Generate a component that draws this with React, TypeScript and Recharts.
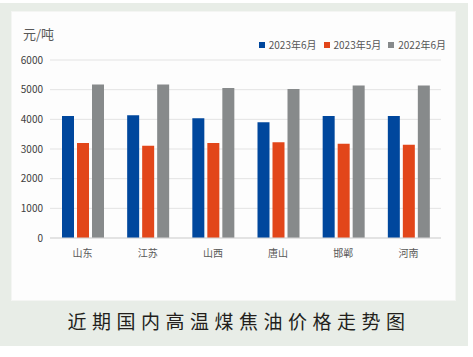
import React from 'react';
import { BarChart, Bar, XAxis, YAxis, CartesianGrid } from 'recharts';

const categories = ['山东', '江苏', '山西', '唐山', '邯郸', '河南'];
const jun2023 = [4110, 4140, 4040, 3900, 4110, 4110];
const may2023 = [3200, 3110, 3200, 3230, 3180, 3140];
const jun2022 = [5170, 5170, 5060, 5020, 5140, 5140];
const yTicks = [0, 1000, 2000, 3000, 4000, 5000, 6000];
const seriesNames = ['2023年6月', '2023年5月', '2022年6月'];
const colors = ['#00479d', '#e2461a', '#878a8b'];

const data = categories.map((c, i) => ({
  name: c,
  a: jun2023[i],
  b: may2023[i],
  c: jun2022[i],
}));

const FONT = '"Noto Sans CJK SC", "Noto Sans", sans-serif';

export default function App() {
  return (
    <div style={{ position: 'absolute', left: 0, top: 0, width: 473, height: 357, background: '#fff' }}>
      <div style={{ position: 'absolute', left: 0, top: 3, width: 468, height: 343, background: '#e8ede7' }} />
      <div
        style={{
          position: 'absolute',
          left: 12,
          top: 12,
          width: 443,
          height: 288,
          background: '#fdfdfd',
          boxShadow: '0 0 0 1px #f4f5f3',
        }}
      >
        <div style={{ position: 'absolute', left: 11, top: 12, fontFamily: FONT, fontSize: 13, color: '#595959' }}>元/吨</div>
        <div
          style={{
            position: 'absolute',
            right: 9,
            top: 26,
            display: 'flex',
            fontFamily: FONT,
            fontSize: 10,
            color: '#555',
            lineHeight: '14px',
          }}
        >
          {seriesNames.map((n, i) => (
            <div key={n} style={{ display: 'flex', alignItems: 'center', marginLeft: i === 0 ? 0 : 7 }}>
              <span style={{ width: 6, height: 6, background: colors[i], display: 'inline-block', marginRight: 4 }} />
              <span>{n}</span>
            </div>
          ))}
        </div>
        <BarChart
          width={443}
          height={288}
          data={data}
          margin={{ top: 48, right: 14, bottom: 0, left: 0 }}
          barSize={12}
          barGap={3}
        >
          <CartesianGrid vertical={false} stroke="#e3e3e3" />
          <XAxis
            dataKey="name"
            axisLine={{ stroke: '#d6d6d6' }}
            tickLine={false}
            tick={{ fill: '#595959', fontSize: 10, fontFamily: FONT }}
            tickMargin={6}
            height={62}
          />
          <YAxis
            domain={[0, 6000]}
            ticks={yTicks}
            width={38}
            axisLine={false}
            tickLine={false}
            tickSize={0}
            tickMargin={7}
            tick={{ fill: '#404040', fontSize: 10, fontFamily: FONT }}
          />
          <Bar dataKey="a" name={seriesNames[0]} fill={colors[0]} isAnimationActive={false} />
          <Bar dataKey="b" name={seriesNames[1]} fill={colors[1]} isAnimationActive={false} />
          <Bar dataKey="c" name={seriesNames[2]} fill={colors[2]} isAnimationActive={false} />
        </BarChart>
      </div>
      <div
        style={{
          position: 'absolute',
          left: 0,
          width: 468,
          top: 307,
          textAlign: 'center',
          fontFamily: FONT,
          fontSize: 19,
          letterSpacing: 5.5,
          color: '#231f1c',
          fontWeight: 400,
          paddingLeft: 5,
        }}
      >
        近期国内高温煤焦油价格走势图
      </div>
    </div>
  );
}
